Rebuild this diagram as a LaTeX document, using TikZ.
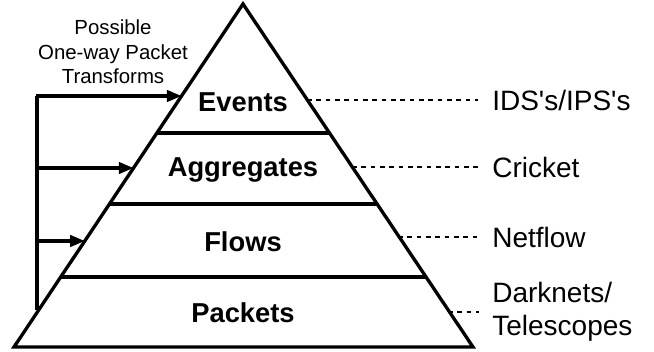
\documentclass[tikz,border=0pt]{standalone}
\usepackage{fontspec}
\setmainfont{Liberation Sans}
\usetikzlibrary{arrows.meta}

\tikzset{every picture/.style={line width=0.45pt}}

\begin{document}
\begin{tikzpicture}[x=0.75pt,y=0.75pt,yscale=-1,xscale=1,
  layer/.style={font=\fontsize{20.5}{24}\selectfont\bfseries, inner sep=0.75pt},
  tool/.style={anchor=west, font=\fontsize{21}{25}\selectfont, inner sep=0.75pt, align=left},
  tie/.style={dash pattern={on 3.5pt off 3.5pt}, line width=1.5pt},
  feed/.style={line width=2.5pt, -{Triangle[length=11pt,width=8.5pt]}}]
\useasboundingbox (0,0) rectangle (654,352);

%Pyramid outline
\coordinate (apex) at (243,4);
\coordinate (bl) at (14,347);
\coordinate (br) at (473,347);
\draw [line width=2.5pt, line join=miter] (apex) -- (bl) -- (br) -- cycle;

%Layer borders
\coordinate (l1) at (157,133);   \coordinate (r1) at (329,133);
\coordinate (l2) at (109.5,204); \coordinate (r2) at (376.5,204);
\coordinate (l3) at (60.7,277);  \coordinate (r3) at (425.3,277);
\draw [line width=2.5pt] (l1) -- (r1) ;
\draw [line width=2.5pt] (l2) -- (r2) ;
\draw [line width=2.5pt] (l3) -- (r3) ;

% Text Node
\node [layer] (events) at (243,102) {Events};
% Text Node
\node [layer] (aggr) at (243,170) {Aggregates};
% Text Node
\node [layer] (flows) at (243,242) {Flows};
% Text Node
\node [layer] (packets) at (243,313) {Packets};

%Transform arrows
\coordinate (ttop) at (37,96);
\coordinate (tbot) at (37,310);
\coordinate (t2) at (37,168);
\coordinate (t3) at (37,241);
\coordinate (e1) at (181.6,96);
\coordinate (e2) at (133.5,168);
\coordinate (e3) at (84.8,241);
\draw [line width=2.5pt] (tbot) -- (ttop) ;
\draw [feed] ([xshift=-0.9pt]ttop) -- (e1) ;
\draw [feed] (t2) -- (e2) ;
\draw [feed] (t3) -- (e3) ;

% Text Node
\node [font=\fontsize{15.3}{18.5}\selectfont, align=center, inner sep=0.75pt] (note) at (113,52) {Possible\\One-way Packet\\Transforms};

%Tools
\node [tool] (ids) at (491,100) {IDS\textquotesingle s/IPS\textquotesingle s};
\node [tool] (cricket) at (491,167) {Cricket};
\node [tool] (netflow) at (491,237) {Netflow};
\node [tool] (dark) at (491,312) {Darknets/\\Telescopes};
\coordinate (d1) at (307,100);
\coordinate (d2) at (352,167);
\coordinate (d3) at (398,237);
\coordinate (d4) at (448,312);
\draw [tie] (d1) -- ([xshift=-10pt]ids.west) ;
\draw [tie] (d2) -- ([xshift=-7pt]cricket.west) ;
\draw [tie] (d3) -- ([xshift=-8pt]netflow.west) ;
\draw [tie] (d4) -- ([xshift=-9pt]dark.west) ;

\end{tikzpicture}
\end{document}
